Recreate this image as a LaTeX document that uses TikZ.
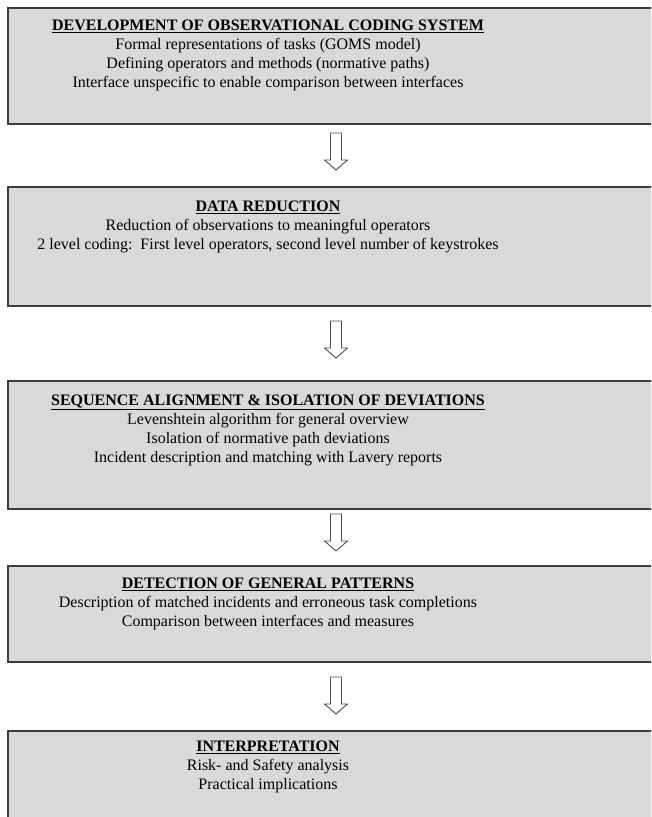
\documentclass[tikz,border=0pt]{standalone}
\usepackage{fontspec}
\setmainfont{Liberation Serif}
\usetikzlibrary{positioning}
\definecolor{boxgray}{RGB}{217,217,217}
\definecolor{edgegray}{RGB}{60,60,60}
\newcommand{\stagetitle}[1]{\underline{\textbf{#1}}}

\begin{document}
\begin{tikzpicture}[x=1pt,y=-1pt,
    stage box/.style={rectangle,draw=edgegray,line width=1.6pt,fill=boxgray,anchor=north west,minimum width=700pt,inner sep=0pt},
    stage text/.style={anchor=north,align=center,inner sep=0pt,font=\fontsize{16}{19}\selectfont},
    down arrow/.pic={\draw[draw=black!70,fill=white,line width=0.9pt,line join=miter]
        (-5.5,0) -- (-5.5,27) -- (-11.5,27) -- (0,37) -- (11.5,27) -- (5.5,27) -- (5.5,0) -- cycle;}]
    \useasboundingbox (0,0) rectangle (651,817);
    \clip (0,0) rectangle (651,817);

    % the five stages
    \node[stage box,minimum height=116pt] (dev) at (7,7) {};
    \node[stage box,minimum height=119pt] (red) at (7,186) {};
    \node[stage box,minimum height=128pt] (seq) at (7,380) {};
    \node[stage box,minimum height=96pt] (pat) at (7,565) {};
    \node[stage box,minimum height=120pt] (int) at (7,730) {};

    \node[stage text] (devtext) at (268,19.7) {\stagetitle{DEVELOPMENT OF OBSERVATIONAL CODING SYSTEM}\\
        Formal representations of tasks (GOMS model)\\
        Defining operators and methods (normative paths)\\
        Interface unspecific to enable comparison between interfaces};
    \node[stage text] (redtext) at (268,200.7) {\stagetitle{DATA REDUCTION}\\
        Reduction of observations to meaningful operators\\
        2 level coding:\ \ First level operators, second level number of keystrokes};
    \node[stage text] (seqtext) at (268,394.7) {\stagetitle{SEQUENCE ALIGNMENT \& ISOLATION OF DEVIATIONS}\\
        Levenshtein algorithm for general overview\\
        Isolation of normative path deviations\\
        Incident description and matching with Lavery reports};
    \node[stage text] (pattext) at (268,577.7) {\stagetitle{DETECTION OF GENERAL PATTERNS}\\
        Description of matched incidents and erroneous task completions\\
        Comparison between interfaces and measures};
    \node[stage text] (inttext) at (268,740.7) {\stagetitle{INTERPRETATION}\\
        Risk- and Safety analysis\\
        Practical implications};

    % hollow arrows between the stages
    \pic at (336,133) {down arrow};
    \pic at (336,321) {down arrow};
    \pic at (336,514) {down arrow};
    \pic at (336,677) {down arrow};
\end{tikzpicture}
\end{document}
